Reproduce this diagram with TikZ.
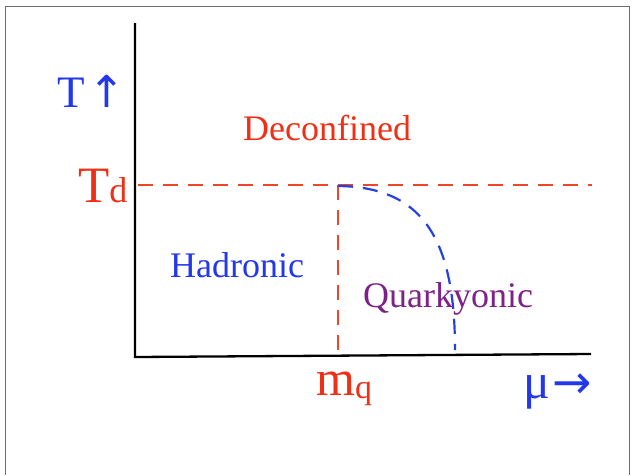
\documentclass[tikz,border=0pt]{standalone}
\usepackage{fontspec}
\setmainfont{Liberation Serif}
\newfontfamily\arrowfont{DejaVu Sans}
\usetikzlibrary{positioning}
\definecolor{labelblue}{RGB}{35,55,235}
\definecolor{labelred}{RGB}{238,48,22}
\definecolor{labelpurple}{RGB}{125,35,135}
\definecolor{dashred}{RGB}{240,70,40}
\definecolor{dashblue}{RGB}{35,65,225}
\definecolor{framegray}{RGB}{110,110,110}
\newcommand{\labelsize}[1]{\fontsize{#1}{#1}\selectfont}

\begin{document}
\begin{tikzpicture}[x=1pt, y=-1pt, every node/.style={inner sep=0pt, anchor=base west},
    axisline/.style={line width=2.3pt, black},
    reddash/.style={line width=2.2pt, dashred, dash pattern=on 15pt off 10pt},
    bluedash/.style={line width=2.2pt, dashblue, dash pattern=on 15pt off 10pt}]
  \useasboundingbox (0,0) rectangle (632,475);
  \draw[framegray, line width=1pt] (5.5,475) -- (5.5,6.5) -- (629.5,6.5) -- (629.5,475);

  % axes
  \coordinate (origin) at (135,357);
  \coordinate (ytop) at (135,23);
  \coordinate (xend) at (591,354);
  \draw[axisline] (ytop) -- (origin) -- (xend);

  % transition lines
  \coordinate (tdleft) at (138,185);
  \coordinate (tdright) at (592,185);
  \coordinate (corner) at (338,185);
  \coordinate (mqfoot) at (338,356);
  \coordinate (qfoot) at (455,350);
  \draw[reddash] (tdleft) -- (tdright);
  \draw[reddash] (corner) -- (mqfoot);
  \draw[bluedash] (338,186) .. controls (420,187) and (455,235) .. (qfoot);

  % labels
  \node[text=labelblue] (tlabel) at (57,107) {\labelsize{45}T\hspace{4pt}{\arrowfont\labelsize{44}↑}};
  \node[text=labelred] (deconf) at (243,140) {\labelsize{36}Deconfined};
  \node[text=labelred] (tdlabel) at (78,202) {\labelsize{51}T{\labelsize{36}d}};
  \node[text=labelblue] (hadr) at (170,277) {\labelsize{36}Hadronic};
  \node[text=labelpurple] (quark) at (363,307) {\labelsize{36}Quarkyonic};
  \node[text=labelred] (mqlabel) at (316,395) {\labelsize{50}m\raisebox{-3pt}{\labelsize{34}q}};
  \node[text=labelblue] (mulabel) at (523,398) {\labelsize{50}μ\hspace{2pt}{\arrowfont\labelsize{47}→}};
\end{tikzpicture}
\end{document}
